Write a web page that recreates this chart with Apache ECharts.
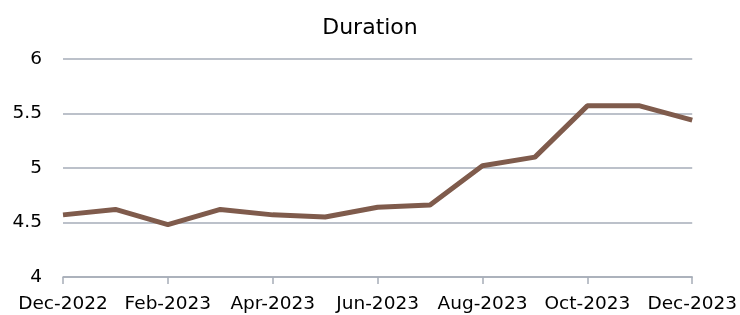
<!DOCTYPE html>
<html>
<head>
<meta charset="utf-8">
<script src="https://cdn.jsdelivr.net/npm/echarts@6/dist/echarts.min.js"></script>
<style>
  html, body { margin: 0; padding: 0; background: #fff; }
  #chart { width: 740px; height: 315px; }
</style>
</head>
<body>
<div id="chart"></div>
<script>
// data
var months = ['Dec-2022', 'Jan-2023', 'Feb-2023', 'Mar-2023', 'Apr-2023', 'May-2023', 'Jun-2023',
              'Jul-2023', 'Aug-2023', 'Sep-2023', 'Oct-2023', 'Nov-2023', 'Dec-2023'];
var duration = [4.57, 4.62, 4.48, 4.62, 4.57, 4.55, 4.64, 4.66, 5.02, 5.10, 5.57, 5.57, 5.44];
var yTicks = [4, 4.5, 5, 5.5, 6];

var chart = echarts.init(document.getElementById('chart'));
var font = 'DejaVu Sans';

chart.setOption({
    animation: false,
    title: {
        text: 'Duration',
        left: 'center',
        top: 12,
        textStyle: { fontFamily: font, fontWeight: 'normal', fontSize: 22, color: '#000' }
    },
    grid: { left: 63, right: 47, top: 59, bottom: 38 },
    xAxis: {
        type: 'category',
        data: months,
        boundaryGap: false,
        axisLine: { lineStyle: { color: '#a6adb8', width: 1.5 } },
        axisTick: { interval: 1, length: 7, lineStyle: { color: '#a6adb8', width: 1.5 } },
        axisLabel: { interval: 1, color: '#000', fontFamily: font, fontSize: 18.5, margin: 18 }
    },
    yAxis: {
        type: 'value',
        min: yTicks[0],
        max: yTicks[yTicks.length - 1],
        interval: 0.5,
        axisLine: { show: false },
        axisTick: { show: false },
        axisLabel: { color: '#000', fontFamily: font, fontSize: 18.5, margin: 21 },
        splitLine: { lineStyle: { color: '#a6adb8', width: 1.5 } }
    },
    series: [{
        type: 'line',
        data: duration,
        symbol: 'none',
        lineStyle: { color: '#7f5b4c', width: 5 }
    }]
});
</script>
</body>
</html>
